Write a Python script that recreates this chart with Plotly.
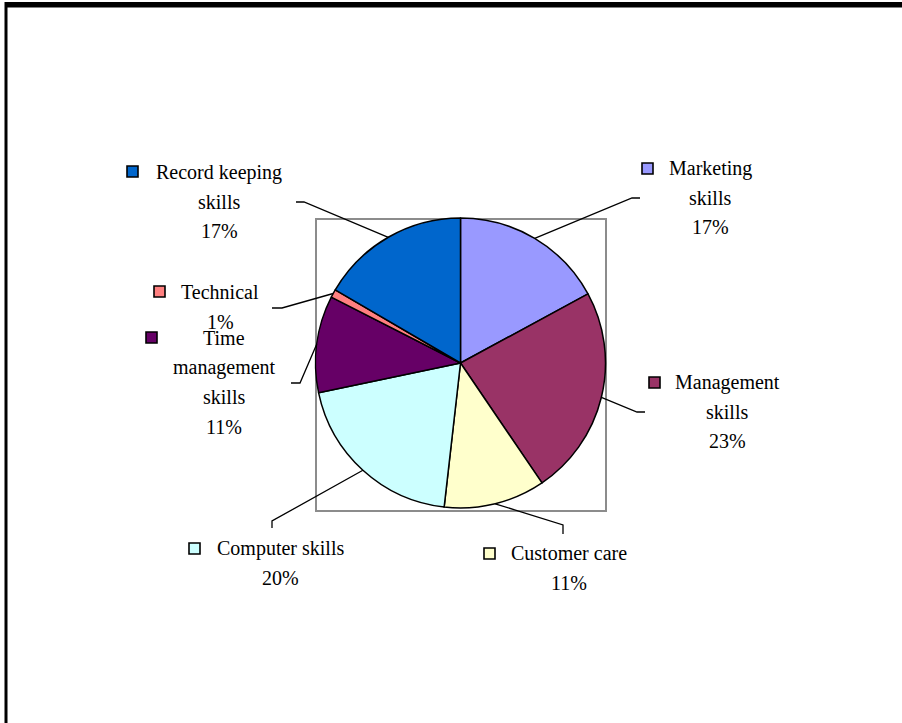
import math
import plotly.graph_objects as go

# ---- data ----
categories = ["Marketing skills", "Management skills", "Customer care", "Computer skills",
              "Time management skills", "Technical", "Record keeping skills"]
values = [17.1, 23.4, 11.3, 19.9, 10.8, 0.9, 16.6]
colors = ["#9999FF", "#993366", "#FFFFCC", "#CCFFFF", "#660066", "#FF8080", "#0066CC"]

# ---- layout parameters (pixels) ----
W, H = 902, 723
CX, CY, R = 460.5, 363.0, 145.0
label_lines = [["Marketing", "skills"], ["Management", "skills"], ["Customer care"],
               ["Computer skills"], ["Time", "management", "skills"], ["Technical"],
               ["Record keeping", "skills"]]
label_center = [(710, 168), (727, 382), (569, 553), (280, 548), (224, 338), (220, 292), (219, 172)]
key_pos = [(642, 163), (649, 377), (484, 548), (189, 543), (146, 332), (154, 286), (127, 166)]
leader_tail = [[(640, 198), (632, 198)], [(645, 412), (637, 412)], [(563, 534), (563, 525)],
               [(272, 528), (272, 521)], [(291, 383), (300, 383)], [(272, 308), (282, 308)],
               [(296, 202), (304, 202)]]
LINE_H = 29.7
FONT = "Liberation Serif"

total = sum(values)
pcts = [f"{round(v / total * 100)}%" for v in values]

fig = go.Figure()
fig.add_trace(go.Scatter(x=[0, W], y=[0, H], mode="markers", marker=dict(opacity=0),
                         hoverinfo="skip", showlegend=False))
fig.add_trace(go.Pie(
    labels=categories, values=values, sort=False, direction="clockwise", rotation=0,
    marker=dict(colors=colors, line=dict(color="black", width=1.5)),
    textinfo="none", showlegend=False, hoverinfo="label+percent",
    domain=dict(x=[(CX - R) / W, (CX + R) / W], y=[1 - (CY + R) / H, 1 - (CY - R) / H]),
))

shapes = []
annotations = []
# outer frame (partially visible)
shapes.append(dict(type="line", xref="x", yref="y", x0=5, x1=W + 5, y0=4.5, y1=4.5,
                   line=dict(color="black", width=5)))
shapes.append(dict(type="line", xref="x", yref="y", x0=7, x1=W + 5, y0=7.5, y1=7.5,
                   line=dict(color="#808080", width=1)))
shapes.append(dict(type="line", xref="x", yref="y", x0=6, x1=6, y0=2, y1=H + 5,
                   line=dict(color="black", width=3)))
# plot area rectangle
shapes.append(dict(type="rect", xref="x", yref="y", x0=316, x1=606, y0=219, y1=511,
                   line=dict(color="#8C8C8C", width=2), layer="below"))

cum = 0.0
for i, v in enumerate(values):
    mid = (cum + v / 2) / total * 2 * math.pi
    cum += v
    ex, ey = CX + R * math.sin(mid), CY - R * math.cos(mid)
    (tx, ty), (bx, by) = leader_tail[i]
    shapes.append(dict(type="path", xref="x", yref="y",
                       path=f"M {tx},{ty} L {bx},{by} L {ex:.1f},{ey:.1f}",
                       line=dict(color="black", width=1.3), layer="above"))
    # legend key
    kx, ky = key_pos[i]
    shapes.append(dict(type="rect", xref="x", yref="y", x0=kx, x1=kx + 11, y0=ky, y1=ky + 11,
                       fillcolor=colors[i], line=dict(color="black", width=1.6), layer="above"))
    lines = label_lines[i] + [pcts[i]]
    cx, cy = label_center[i]
    for j, t in enumerate(lines):
        annotations.append(dict(x=cx, y=cy + j * LINE_H, xref="x", yref="y", text=t,
                                showarrow=False, xanchor="center", yanchor="middle",
                                font=dict(family=FONT, size=20, color="black")))

fig.update_layout(
    width=W, height=H, margin=dict(l=0, r=0, t=0, b=0),
    paper_bgcolor="white", plot_bgcolor="white",
    xaxis=dict(range=[0, W], visible=False, domain=[0, 1], fixedrange=True),
    yaxis=dict(range=[H, 0], visible=False, domain=[0, 1], fixedrange=True),
    shapes=shapes, annotations=annotations, showlegend=False,
)
fig.write_html("out.html", config={"displayModeBar": False},
               post_script="document.body.style.margin='0px';document.body.style.overflow='hidden';")
